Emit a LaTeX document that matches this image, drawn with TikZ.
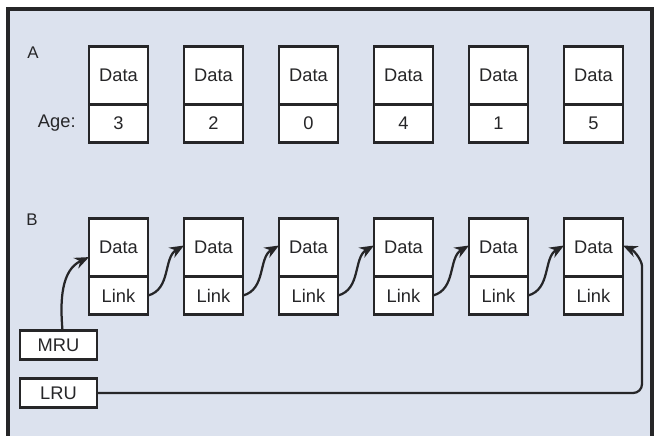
\documentclass[tikz,border=0pt]{standalone}
\usepackage{fontspec}
\setmainfont{Liberation Sans}
\usepackage{xcolor}
\usetikzlibrary{arrows.meta,positioning}
\definecolor{paper}{RGB}{220,226,238}
\definecolor{ink}{RGB}{38,38,40}

\begin{document}
\begin{tikzpicture}[x=0.025cm, y=0.025cm,
  cell/.style={draw=ink, fill=white, line width=1.8pt, outer sep=0pt, inner sep=0pt,
               font=\fontsize{13}{15}\selectfont, text=ink, minimum width=1.475cm},
  datacell/.style={cell, minimum height=1.45cm},
  lowcell/.style={cell, minimum height=0.95cm},
  ptr/.style={cell, minimum width=1.925cm, minimum height=0.725cm},
  lbl/.style={font=\fontsize{12}{14}\selectfont, text=ink},
  arr/.style={-{Stealth[length=3.6mm,width=2.9mm]}, line width=1.6pt, draw=ink},
]
\useasboundingbox (0,0) rectangle (654,436);
% frame
\fill[paper] (8,-2) rectangle (652,427);
\draw[ink, line width=2.2pt] (8,-2) -- (8,427) -- (652,427) -- (652,-2);
% A: entries with age counters
\node[lbl] (la) at (33,383) {A};
\node[datacell] (da1) at (118.5,360.5) {Data};
\node[datacell] (da2) at (213.5,360.5) {Data};
\node[datacell] (da3) at (308.5,360.5) {Data};
\node[datacell] (da4) at (403.5,360.5) {Data};
\node[datacell] (da5) at (498.5,360.5) {Data};
\node[datacell] (da6) at (593.5,360.5) {Data};
\node[lowcell, below=0pt of da1] (ag1) {3};
\node[lowcell, below=0pt of da2] (ag2) {2};
\node[lowcell, below=0pt of da3] (ag3) {0};
\node[lowcell, below=0pt of da4] (ag4) {4};
\node[lowcell, below=0pt of da5] (ag5) {1};
\node[lowcell, below=0pt of da6] (ag6) {5};
\node[font=\fontsize{13}{15}\selectfont, text=ink, left=6pt of ag1] (age) {Age:};
% B: linked list
\node[lbl] (lb) at (32,216) {B};
\node[datacell] (db1) at (118.5,188.5) {Data};
\node[datacell] (db2) at (213.5,188.5) {Data};
\node[datacell] (db3) at (308.5,188.5) {Data};
\node[datacell] (db4) at (403.5,188.5) {Data};
\node[datacell] (db5) at (498.5,188.5) {Data};
\node[datacell] (db6) at (593.5,188.5) {Data};
\node[lowcell, below=0pt of db1] (lk1) {Link};
\node[lowcell, below=0pt of db2] (lk2) {Link};
\node[lowcell, below=0pt of db3] (lk3) {Link};
\node[lowcell, below=0pt of db4] (lk4) {Link};
\node[lowcell, below=0pt of db5] (lk5) {Link};
\node[lowcell, below=0pt of db6] (lk6) {Link};
\node[ptr] (mru) at (58.5,91) {MRU};
\node[ptr] (lru) at (58.5,43) {LRU};
\coordinate (turn) at (642,161);
\draw[arr] (lk1.east) to[out=15, in=210] ([yshift=0.05cm]db2.west);
\draw[arr] (lk2.east) to[out=15, in=210] ([yshift=0.05cm]db3.west);
\draw[arr] (lk3.east) to[out=15, in=210] ([yshift=0.05cm]db4.west);
\draw[arr] (lk4.east) to[out=15, in=210] ([yshift=0.05cm]db5.west);
\draw[arr] (lk5.east) to[out=15, in=210] ([yshift=0.05cm]db6.west);
\draw[arr] ([xshift=0.1cm]mru.north) to[out=95, in=205] ([yshift=-0.24cm]db1.west);
\draw[arr, rounded corners=0.22cm] (lru.east) -| (turn) to[out=90, in=-25] ([yshift=0.05cm]db6.east);
\end{tikzpicture}
\end{document}
